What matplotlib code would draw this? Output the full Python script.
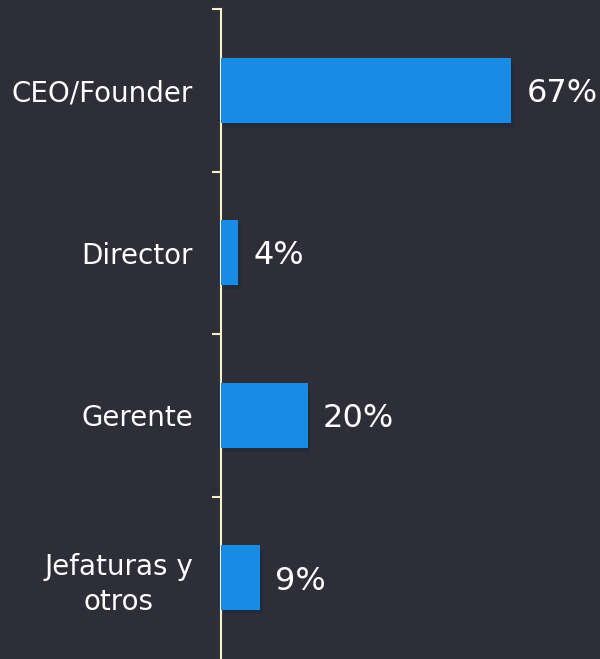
import matplotlib.pyplot as plt
from matplotlib import patheffects as pe

categories = ["CEO/Founder", "Director", "Gerente", "Jefaturas y\notros"]
shares = [67, 4, 20, 9]

BG = "#2e2e38"
BLUE = "#188ce5"
AXIS = "#f6f2c8"

fig = plt.figure(figsize=(6, 6.59), dpi=100, facecolor=BG)
ax = fig.add_axes([221 / 600, 0, 379 / 600, 650 / 659])
ax.set_facecolor(BG)

y = list(range(len(categories)))
bars = ax.barh(y, shares, height=0.4, color=BLUE, zorder=3)
for b in bars:
    b.set_path_effects([pe.SimplePatchShadow(offset=(2, -3), alpha=0.35),
                        pe.Normal()])

ax.set_ylim(len(categories) - 0.5, -0.5)
ax.set_xlim(0, 87.5)

for i, v in enumerate(shares):
    ax.text(v + 3.5, i + 0.02, f"{v}%", ha="left", va="center",
            color="white", fontsize=23)

ax.set_yticks(y)
ax.set_yticklabels(categories, color="white", fontsize=20)
ax.set_yticks([i - 0.5 for i in y], minor=True)
ax.tick_params(axis="y", which="major", length=0, pad=20)
ax.tick_params(axis="y", which="minor", length=6.5, width=1.5, color=AXIS)
for lbl in ax.get_yticklabels():
    lbl.set_multialignment("center")
    lbl.set_linespacing(1.35)
ax.set_xticks([])

for s in ["top", "right", "bottom"]:
    ax.spines[s].set_visible(False)
ax.spines["left"].set_color(AXIS)
ax.spines["left"].set_linewidth(1.5)

fig.savefig("out.png", dpi=100, facecolor=BG)
